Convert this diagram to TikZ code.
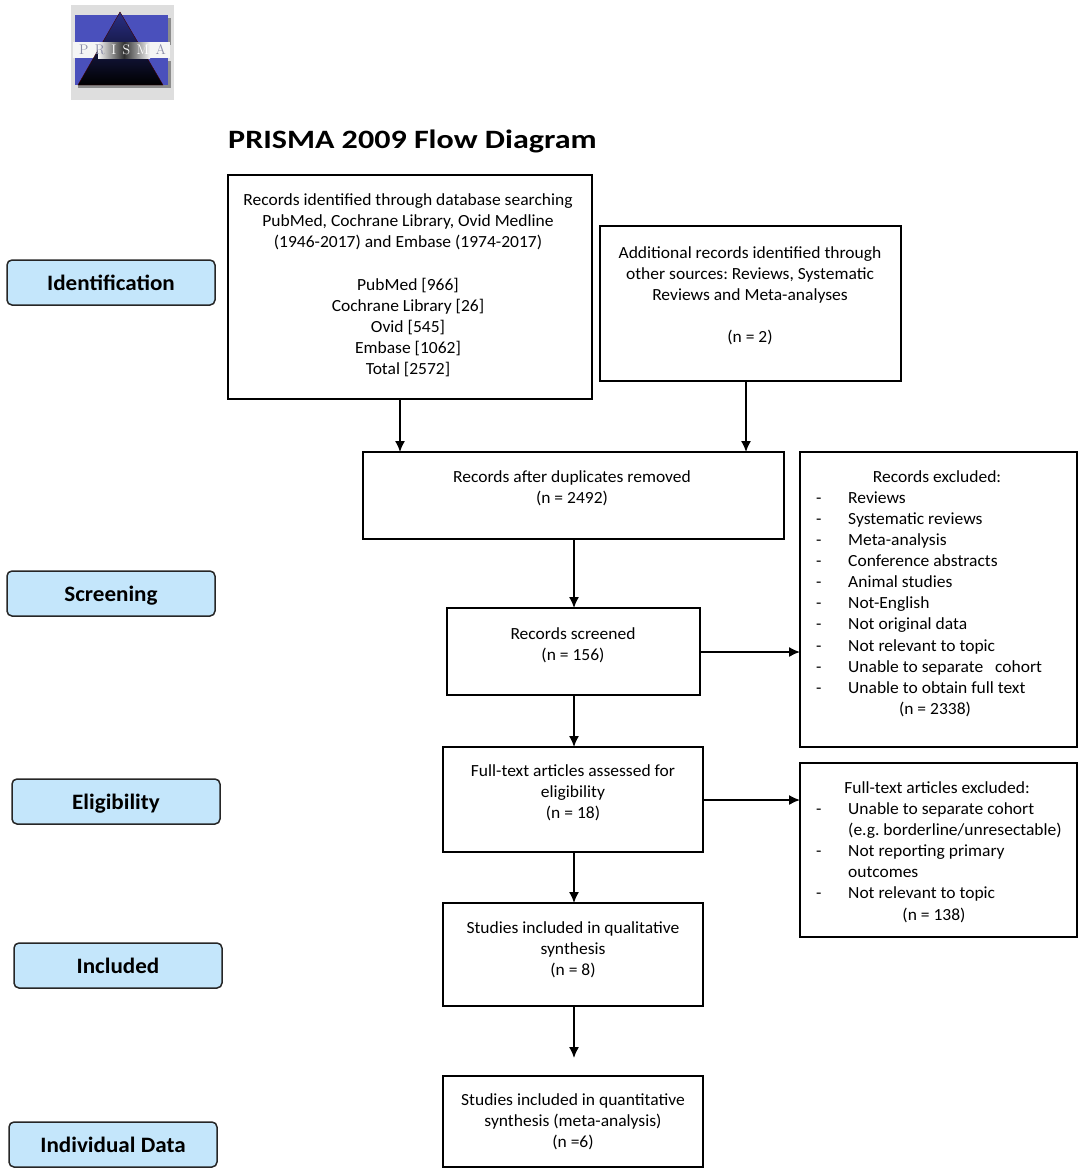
\documentclass[tikz,border=0pt]{standalone}
\usepackage{fontspec}
\setmainfont[FakeStretch=1.03]{Carlito}
\newfontfamily\titlefont[FakeStretch=1.21]{Carlito}
\newfontfamily\stagefont[FakeStretch=1.05]{Carlito}
\usetikzlibrary{calc,arrows.meta,shadings}
\definecolor{stagefill}{HTML}{C4E6FB}
\definecolor{logobg}{HTML}{DEDEDE}
\definecolor{logoblue}{HTML}{4A50BC}
\definecolor{logotri}{HTML}{2A2F86}
\definecolor{logoletter}{HTML}{8A8CA8}
\tikzset{
  x=1pt,y=-1pt,
  flowbox/.style={draw=black,line width=1.6pt,inner sep=0pt,outer sep=0pt,anchor=north west},
  stage/.style={draw=black!85,line width=1.5pt,fill=stagefill,rounded corners=5pt,inner sep=0pt,outer sep=0pt,
    minimum width=208pt,minimum height=45pt,text height=15pt,text depth=0pt,font=\stagefont\fontsize{22}{24}\selectfont\bfseries},
  txt/.style={align=center,inner sep=0pt,font=\fontsize{17}{21}\selectfont},
  ltxt/.style={align=left,anchor=west,inner sep=0pt,font=\fontsize{17}{21.1}\selectfont},
  arr/.style={draw=black,line width=1.5pt,-{Latex[length=11pt,width=10pt]}},
}
\newcommand{\dashitem}[1]{\makebox[32pt][l]{-}#1}
\newcommand{\boxat}[5]{\node[flowbox,minimum width=#4pt-#2pt,minimum height=#5pt-#3pt] (#1) at (#2,#3) {};}
\frenchspacing
\begin{document}
\frenchspacing
\begin{tikzpicture}
\useasboundingbox (0,0) rectangle (1084,1176);
% logo
\fill[logobg] (71,5) rectangle (174,100);
\fill[black!45] (78,18) rectangle (171,45);
\fill[black!45] (78,61) rectangle (171,88);
\fill[logoblue] (75,15) rectangle (168,42);
\fill[logoblue] (75,58) rectangle (168,85);
\fill[white!92!gray] (73,42) rectangle (170,58);
\shade[top color=logotri,bottom color=black,draw=red!25!black,line width=0.4pt] (120,12) -- (163,85) -- (78,85) -- cycle;
\shade[left color=white!92!gray,right color=white!92!gray,middle color=black!80] (98,42) rectangle (150,58);
\node[inner sep=0pt,font=\fontfamily{lmr}\fontsize{14}{14}\selectfont] (logotext) at (122.5,50) {\color{logoletter}P\hspace{6.4pt}R\hspace{6.4pt}\color{white}I\hspace{6.4pt}S\hspace{6.4pt}M\hspace{6.4pt}\color{logoletter}A};
% title
\node[anchor=west,inner sep=0pt,font=\titlefont\fontsize{26.5}{30}\selectfont\bfseries] (title) at (228,141) {PRISMA 2009 Flow Diagram};
% stages
\node[stage] (s1) at (111,282.5) {Identification};
\node[stage] (s2) at (111,593.5) {Screening};
\node[stage] (s3) at (116,801.5) {Eligibility};
\node[stage] (s4) at (118,965.5) {Included};
\node[stage] (s5) at (113,1144.5) {Individual Data};
% boxes
\boxat{A}{228}{175}{592}{399}
\boxat{B}{600}{226}{901}{381}
\boxat{C}{363}{452}{784}{539}
\boxat{D}{447}{608}{700}{695}
\boxat{E}{443}{747}{703}{852}
\boxat{F}{443}{903}{703}{1006}
\boxat{G}{443}{1076}{703}{1167}
\boxat{R}{800}{452}{1077}{747}
\boxat{Q}{800}{763}{1077}{937}
% texts
\node[txt] (ta) at (408,221.5) {Records identified through database searching\\PubMed, Cochrane Library, Ovid Medline\\(1946-2017) and Embase (1974-2017)};
\node[txt] (tb) at (408,327.5) {PubMed [966]\\Cochrane Library [26]\\Ovid [545]\\Embase [1062]\\Total [2572]};
\node[txt] (tc) at (750,296) {Additional records identified through\\other sources: Reviews, Systematic\\Reviews and Meta-analyses\\[21pt](n = 2)};
\node[txt] (td) at (572,488) {Records after duplicates removed\\(n = 2492)};
\node[txt] (te) at (573,645) {Records screened\\(n = 156)};
\node[txt] (tf) at (573,793) {Full-text articles assessed for\\eligibility\\(n = 18)};
\node[txt] (tg) at (573,949.5) {Studies included in qualitative\\synthesis\\(n = 8)};
\node[txt] (th) at (573,1121.5) {Studies included in quantitative\\synthesis (meta-analysis)\\(n =6)};
\node[txt] (ti) at (937,477) {Records excluded:};
\node[ltxt] (tj) at (816,592.5) {\dashitem{Reviews}\\\dashitem{Systematic reviews}\\\dashitem{Meta-analysis}\\\dashitem{Conference abstracts}\\\dashitem{Animal studies}\\\dashitem{Not-English}\\\dashitem{Not original data}\\\dashitem{Not relevant to topic}\\\dashitem{Unable to separate\ \ \ cohort}\\\dashitem{Unable to obtain full text}};
\node[txt] (tk) at (935,709) {(n = 2338)};
\node[txt] (tl) at (937,788) {Full-text articles excluded:};
\node[ltxt] (tm) at (816,852) {\dashitem{Unable to separate cohort}\\\makebox[32pt][l]{}(e.g. borderline/unresectable)\\\dashitem{Not reporting primary}\\\makebox[32pt][l]{}outcomes\\\dashitem{Not relevant to topic}};
\node[txt] (tn) at (934,915) {(n = 138)};
% connectors
\coordinate (xa) at (400,452);
\coordinate (xb) at (746,452);
\coordinate (xc) at (574,452);
\coordinate (yd) at (800,652);
\coordinate (ye) at (800,800);
\coordinate (gend) at (574,1058);
\draw[arr] (A.south -| xa) -- (C.north -| xa);
\draw[arr] (B.south -| xb) -- (C.north -| xb);
\draw[arr] (C.south -| xc) -- (D.north -| xc);
\draw[arr] (D.east |- yd) -- (R.west |- yd);
\draw[arr] (D.south -| xc) -- (E.north -| xc);
\draw[arr] (E.east |- ye) -- (Q.west |- ye);
\draw[arr] (E.south -| xc) -- (F.north -| xc);
\draw[arr] (F.south -| xc) -- (gend);
\end{tikzpicture}
\end{document}
